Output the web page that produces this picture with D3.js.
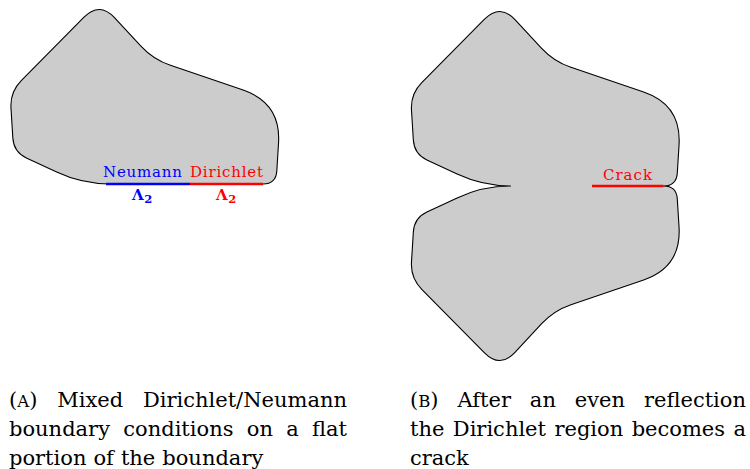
<!DOCTYPE html>
<html>
<head>
<meta charset="utf-8">
<script src="https://cdn.jsdelivr.net/npm/d3@7"></script>
<style>
  html, body { margin: 0; padding: 0; background: #fff; }
  svg { display: block; }
</style>
</head>
<body>
<div id="chart"></div>
<script>
// Domain outline above the flat boundary, y measured upward from the flat part.
// Walked from the left end of the flat part, round the top, to its right end.
const outlineStart = [110, 0];
const outlineEnd = [263, 0];
const cornerX = [82, 13.7, 10, 99.5, 153.4, 281, 276];
const cornerY = [0, 32, 92, 182.5, 124.5, 81, 0];
const cornerCut = [28, 14, 16, 22, 18, 40, 13];

// pieces of the flat boundary
const neumannX = [106, 190];
const dirichletX = [190, 263];
const crackX = [190, 263];

const captionA = ["(A) Mixed Dirichlet/Neumann", "boundary conditions on a flat", "portion of the boundary"];
const captionB = ["(B) After an even reflection", "the Dirichlet region becomes a", "crack"];

const width = 750, height = 469;
const blue = "#0000ff", red = "#ff0000";
const serif = "'DejaVu Serif', serif";

const svg = d3.select("#chart").append("svg").attr("width", width).attr("height", height);

// Append the rounded outline to path p (flip = -1 mirrors it below the flat part)
function traceOutline(p, sx, sy, flip, reverse) {
    let pts = cornerX.map((cx, i) => ({ x: cx, y: cornerY[i] * flip, r: cornerCut[i] }));
    let start = { x: outlineStart[0], y: outlineStart[1] * flip };
    let end = { x: outlineEnd[0], y: outlineEnd[1] * flip };
    if (reverse) {
        pts.reverse();
        [start, end] = [end, start];
    }
    const seq = [start, ...pts, end];
    for (let i = 1; i < seq.length - 1; i++) {
        const v = seq[i], a = seq[i - 1], b = seq[i + 1];
        const da = Math.hypot(a.x - v.x, a.y - v.y);
        const db = Math.hypot(b.x - v.x, b.y - v.y);
        const pin = { x: v.x + (a.x - v.x) * v.r / da, y: v.y + (a.y - v.y) * v.r / da };
        const pout = { x: v.x + (b.x - v.x) * v.r / db, y: v.y + (b.y - v.y) * v.r / db };
        p.lineTo(sx(pin.x), sy(pin.y));
        p.quadraticCurveTo(sx(v.x), sy(v.y), sx(pout.x), sy(pout.y));
    }
    p.lineTo(sx(end.x), sy(end.y));
}

// ---- Panel A
const xA = d3.scaleLinear().domain([0, 300]).range([0, 300]);
const yA = d3.scaleLinear().domain([0, 200]).range([184, -16]);

const pA = d3.path();
pA.moveTo(xA(outlineStart[0]), yA(outlineStart[1]));
traceOutline(pA, xA, yA, 1, false);
pA.closePath();

svg.append("path")
    .attr("d", pA.toString())
    .attr("fill", "#cccccc")
    .attr("stroke", "#000")
    .attr("stroke-width", 1.1)
    .attr("stroke-linejoin", "round");

svg.append("line")
    .attr("x1", xA(neumannX[0])).attr("x2", xA(neumannX[1]))
    .attr("y1", yA(0)).attr("y2", yA(0))
    .attr("stroke", blue).attr("stroke-width", 2.6);

svg.append("line")
    .attr("x1", xA(dirichletX[0])).attr("x2", xA(dirichletX[1]))
    .attr("y1", yA(0)).attr("y2", yA(0))
    .attr("stroke", red).attr("stroke-width", 2.6);

svg.append("text")
    .attr("x", xA(142.5)).attr("y", yA(7.3))
    .attr("text-anchor", "middle")
    .attr("font-family", serif).attr("font-size", 15)
    .attr("textLength", 79).attr("lengthAdjust", "spacing")
    .attr("fill", blue)
    .text("Neumann");

svg.append("text")
    .attr("x", xA(226.5)).attr("y", yA(7.3))
    .attr("text-anchor", "middle")
    .attr("font-family", serif).attr("font-size", 15)
    .attr("textLength", 73).attr("lengthAdjust", "spacing")
    .attr("fill", red)
    .text("Dirichlet");

function lambda(x, y, color) {
    const t = svg.append("text")
        .attr("x", x).attr("y", y)
        .attr("font-family", serif).attr("font-weight", "bold")
        .attr("font-size", 15).attr("fill", color);
    t.append("tspan").text("\u039B");
    t.append("tspan").attr("dy", 3).attr("dx", 0.5).attr("font-size", 11.5).text("2");
}
lambda(xA(132), yA(-16), blue);
lambda(xA(216), yA(-16), red);

// ---- Panel B: even reflection of A across the flat part
const xB = d3.scaleLinear().domain([0, 300]).range([400.5, 700.5]);
const yB = d3.scaleLinear().domain([0, 200]).range([186, -14]);

const pB = d3.path();
pB.moveTo(xB(outlineStart[0]), yB(outlineStart[1]));
traceOutline(pB, xB, yB, 1, false);
traceOutline(pB, xB, yB, -1, true);
pB.closePath();

svg.append("path")
    .attr("d", pB.toString())
    .attr("fill", "#cccccc")
    .attr("stroke", "#000")
    .attr("stroke-width", 1.1)
    .attr("stroke-linejoin", "round");

svg.append("line")
    .attr("x1", xB(crackX[0]) + 1.5).attr("x2", xB(crackX[1]))
    .attr("y1", yB(0)).attr("y2", yB(0))
    .attr("stroke", red).attr("stroke-width", 2.6);

svg.append("text")
    .attr("x", xB(227)).attr("y", yB(6))
    .attr("text-anchor", "middle")
    .attr("font-family", serif).attr("font-size", 15)
    .attr("textLength", 49).attr("lengthAdjust", "spacing")
    .attr("fill", red)
    .text("Crack");

// ---- Captions (justified, last line ragged)
function addWord(g, word, x, y) {
    const t = g.append("text")
        .attr("x", x).attr("y", y)
        .attr("font-family", serif).attr("font-size", 21)
        .attr("fill", "#000");
    const m = word.match(/^\((\w)\)$/);
    if (m) {
        // small caps panel tag
        t.append("tspan").text("(");
        t.append("tspan").attr("font-size", 16.5).text(m[1]);
        t.append("tspan").text(")");
    } else {
        t.text(word);
    }
    return t;
}

function caption(lines, left, right, baseY, lineGap) {
    const g = svg.append("g");
    lines.forEach((line, li) => {
        const y = baseY + li * lineGap;
        const words = line.split(" ");
        if (li === lines.length - 1) {
            let x = left;
            words.forEach(w => {
                const t = addWord(g, w, x, y);
                x += t.node().getComputedTextLength() + 7;
            });
            return;
        }
        const nodes = words.map(w => addWord(g, w, 0, y));
        const widths = nodes.map(n => n.node().getComputedTextLength());
        const gap = (right - left - d3.sum(widths)) / (words.length - 1);
        let x = left;
        nodes.forEach((n, i) => {
            n.attr("x", x);
            x += widths[i] + gap;
        });
    });
}

caption(captionA, 9, 347, 407, 29);
caption(captionB, 410, 746, 407, 29);
</script>
</body>
</html>
